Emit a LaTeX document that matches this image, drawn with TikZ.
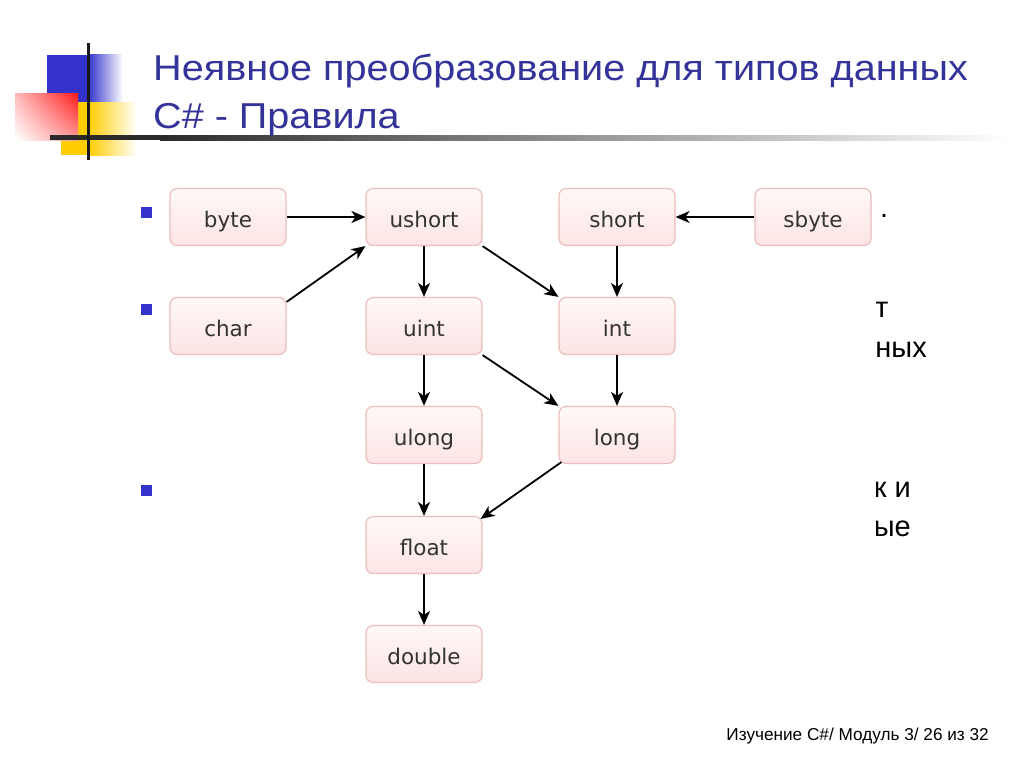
\documentclass[tikz,border=0pt]{standalone}
\usepackage{fontspec}
\setmainfont{Liberation Sans}
\newfontfamily\vfont{DejaVu Sans}
\newfontfamily\tfont[FakeStretch=1.1]{Liberation Sans}
\usetikzlibrary{arrows.meta,shadings}
\definecolor{titleblue}{HTML}{333399}
\definecolor{bulblue}{HTML}{3333CC}
\definecolor{boxborder}{HTML}{EBBDBD}
\definecolor{boxtop}{HTML}{FFF8F8}
\definecolor{boxbot}{HTML}{FCE4E4}
\definecolor{decoblue}{HTML}{3333CC}
\definecolor{decoyellow}{HTML}{FFCC00}
\definecolor{decored}{HTML}{FF1A1A}
\definecolor{bardark}{HTML}{2A2A2A}
\begin{document}
\begin{tikzpicture}[x=1pt,y=-1pt,
  typebox/.style={draw=boxborder, line width=1.2pt, rounded corners=7pt,
    top color=boxtop, bottom color=boxbot, minimum width=116pt,
    minimum height=57pt, inner sep=0pt, text height=20pt, text depth=0pt,
    font=\vfont\fontsize{21.5}{24}\selectfont, text=black!80},
  conv/.style={line width=1.8pt, -{Stealth[length=14pt,width=12pt,inset=4pt]}},
  frag/.style={font=\fontsize{29}{34}\selectfont, inner sep=0pt, text=black},
  bullet/.style={fill=bulblue, minimum size=11pt, inner sep=0pt},
  titletext/.style={font=\tfont\fontsize{36}{44}\selectfont, text=titleblue,
    inner sep=0pt, anchor=base west}
]
\useasboundingbox (0,0) rectangle (1024,768);
\fill[white] (0,0) rectangle (1024,768);

% decoration
\fill[decoblue] (47,55) rectangle (88,102);
\shade[left color=decoblue, right color=white] (88,55) rectangle (123,102);
\fill[decoyellow] (61,102) rectangle (88,155);
\shade[left color=decoyellow, right color=white] (88,102) rectangle (137,155);
\shade[upper right=decored, upper left=decored!30, lower right=decored!45,
  lower left=white] (15,93) rectangle (78,140);
\fill[bardark] (50,135) rectangle (160,140);
\shade[left color=bardark, right color=white] (160,135) rectangle (1010,140);
\draw[line width=3pt, black!90] (88,43) -- (88,160);

% title
\node[titletext] (t1) at (153,80) {Неявное преобразование для типов данных};
\node[titletext] (t2) at (153,128) {C\# - Правила};

% bullets
\node[bullet] (b1) at (146.5,212.5) {};
\node[bullet] (b2) at (146.5,309.5) {};
\node[bullet] (b3) at (146.5,490.5) {};

% text fragments behind the picture
\node[frag, anchor=base west] (f1) at (880,217) {.};
\node[frag, anchor=base west] (f2) at (875,317) {т};
\node[frag, anchor=base east] (f3) at (927,357) {ных};
\node[frag, anchor=base east] (f4) at (911,497) {к и};
\node[frag, anchor=base east] (f5) at (911,536) {ые};
\fill[white] (160,180) rectangle (876,690);

% diagram
\node[typebox] (byte) at (228,217) {byte};
\node[typebox] (ushort) at (424,217) {ushort};
\node[typebox] (short) at (617,217) {short};
\node[typebox] (sbyte) at (813,217) {sbyte};
\node[typebox] (char) at (228,326) {char};
\node[typebox] (uint) at (424,326) {uint};
\node[typebox] (int) at (617,326) {int};
\node[typebox] (ulong) at (424,435) {ulong};
\node[typebox] (long) at (617,435) {long};
\node[typebox] (float) at (424,545) {float};
\node[typebox] (double) at (424,654) {double};

\draw[conv] (byte) -- (ushort);
\draw[conv] ([yshift=-5pt]char.north east) -- (ushort.south west);
\draw[conv] (ushort) -- (uint);
\draw[conv] (ushort.south east) -- (int.north west);
\draw[conv] (sbyte) -- (short);
\draw[conv] (short) -- (int);
\draw[conv] (uint) -- (ulong);
\draw[conv] (uint.south east) -- (long.north west);
\draw[conv] (int) -- (long);
\draw[conv] (ulong) -- (float);
\draw[conv] ([xshift=3pt,yshift=2pt]long.south west) -- ([xshift=-2pt,yshift=-3pt]float.north east);
\draw[conv] (float) -- (double);

% footer
\node[anchor=base east, inner sep=0pt, font=\fontsize{17.2}{20}\selectfont, text=black] (ft) at (989,740) {Изучение C\#/ Модуль 3/ 26 из 32};
\end{tikzpicture}
\end{document}
